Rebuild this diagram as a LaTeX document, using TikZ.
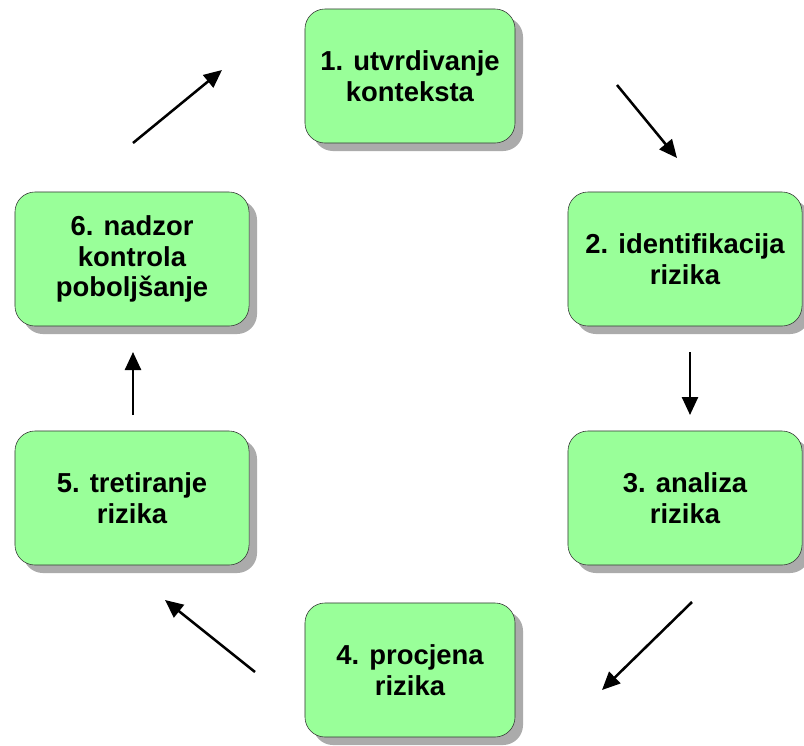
\documentclass[tikz,border=0pt]{standalone}
\usepackage{fontspec}
\setmainfont{Liberation Sans}
\usepackage{xcolor}
\usetikzlibrary{arrows.meta, positioning, shadows}
\definecolor{stepgreen}{HTML}{99FF99}

\begin{document}
\begin{tikzpicture}[
    x=0.025cm, y=-0.025cm,
    every node/.style={font=\bfseries\fontsize{19.5}{21.8}\selectfont},
    box/.style={draw=black!80, fill=stepgreen, rounded corners=0.5cm, align=center,
        minimum width=5.25cm, minimum height=3.35cm,
        drop shadow={shadow xshift=0.2cm, shadow yshift=-0.2cm, fill=black!33, opacity=1}},
    widebox/.style={box, minimum width=5.85cm},
    arrow/.style={-{Triangle[length=4.5mm, width=4mm]}, line width=1.8pt}
]
\useasboundingbox (0,0) rectangle (804,745);

% --- steps ---
\node[box] (kontekst) at (410,76) {1. utvrdivanje\\konteksta};
\node[widebox] (identif) at (685,259) {2. identifikacija\\rizika};
\node[widebox] (analiza) at (685,498) {3. analiza\\rizika};
\node[box] (procjena) at (410,670) {4. procjena\\rizika};
\node[widebox] (tretman) at (132,498) {5. tretiranje\\rizika};
\node[widebox] (nadzor) at (132,259) {6. nadzor\\kontrola\\poboljšanje};

% --- arrow ends ---
\coordinate (a1s) at (617,85);  \coordinate (a1e) at (677,158);
\coordinate (a2s) at (690,352); \coordinate (a2e) at (690,415);
\coordinate (a3s) at (692,602); \coordinate (a3e) at (602,690);
\coordinate (a4s) at (255,672); \coordinate (a4e) at (165,600);
\coordinate (a5s) at (133,415); \coordinate (a5e) at (133,352);
\coordinate (a6s) at (133,143); \coordinate (a6e) at (222,70);

\draw[arrow] (a1s) -- (a1e);
\draw[arrow] (a2s) -- (a2e);
\draw[arrow] (a3s) -- (a3e);
\draw[arrow] (a4s) -- (a4e);
\draw[arrow] (a5s) -- (a5e);
\draw[arrow] (a6s) -- (a6e);

\end{tikzpicture}
\end{document}
